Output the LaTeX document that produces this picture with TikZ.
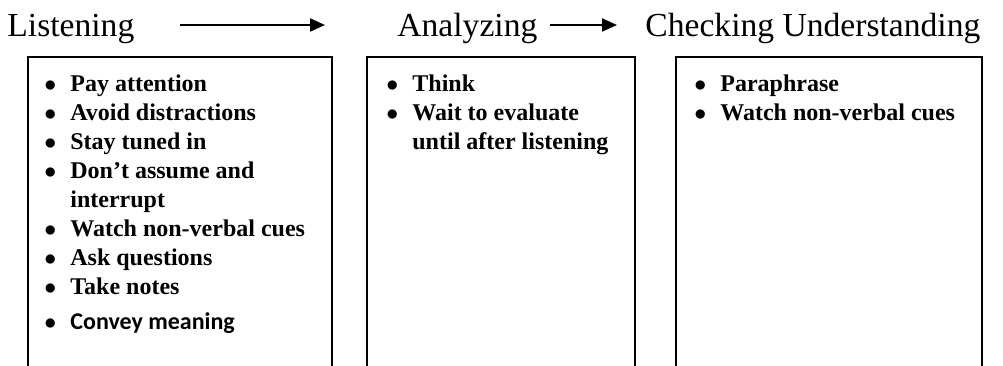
\documentclass[tikz,border=0pt]{standalone}
\usepackage{fontspec}
\setmainfont{Liberation Serif}
\newfontfamily\calibri{Carlito}
\usepackage{tikz}
\usetikzlibrary{arrows.meta,positioning}
\tikzset{
  fase/.style={font=\fontsize{16.8}{20}\selectfont,inner sep=0pt,anchor=base west},
  caja/.style={draw=black,line width=1pt},
  lista/.style={font=\bfseries\fontsize{12}{14.5}\selectfont,align=left,inner sep=0pt,anchor=north west},
  flecha/.style={-{Triangle[length=7.5pt,width=6.5pt]},line width=1pt}
}
\newcommand{\punto}{\strut\llap{\normalfont$\bullet$\hspace{7pt}}}

\begin{document}
\begin{tikzpicture}[x=0.5pt,y=-0.5pt]
\useasboundingbox (0,0) rectangle (1003,365);
\node[fase] (escuchar) at (7,36) {Listening};
\node[fase] (analizar) at (397,36) {Analyzing};
\node[fase] (verificar) at (645,36) {Checking Understanding};
\coordinate (f1a) at (180,25); \coordinate (f1b) at (325,25);
\coordinate (f2a) at (550,25); \coordinate (f2b) at (617,25);
\draw[flecha] (f1a) -- (f1b);
\draw[flecha] (f2a) -- (f2b);
\draw[caja] (28,380) |- (332,57) -- (332,380);
\draw[caja] (367,380) |- (635,57) -- (635,380);
\draw[caja] (676,380) |- (982,57) -- (982,380);
% baseline of first item at y=91
\node[lista] (l1) at (70,70.7) {\punto Pay attention\\ \punto Avoid distractions\\ \punto Stay tuned in\\
  \punto Don't assume and\\ interrupt\\ \punto Watch non-verbal cues\\ \punto Ask questions\\
  \punto Take notes\\[3pt] \punto{\calibri Convey meaning}};
\node[lista] (l2) at (412,70.7) {\punto Think\\ \punto Wait to evaluate\\ until after listening};
\node[lista] (l3) at (720,70.7) {\punto Paraphrase\\ \punto Watch non-verbal cues};
\end{tikzpicture}
\end{document}
